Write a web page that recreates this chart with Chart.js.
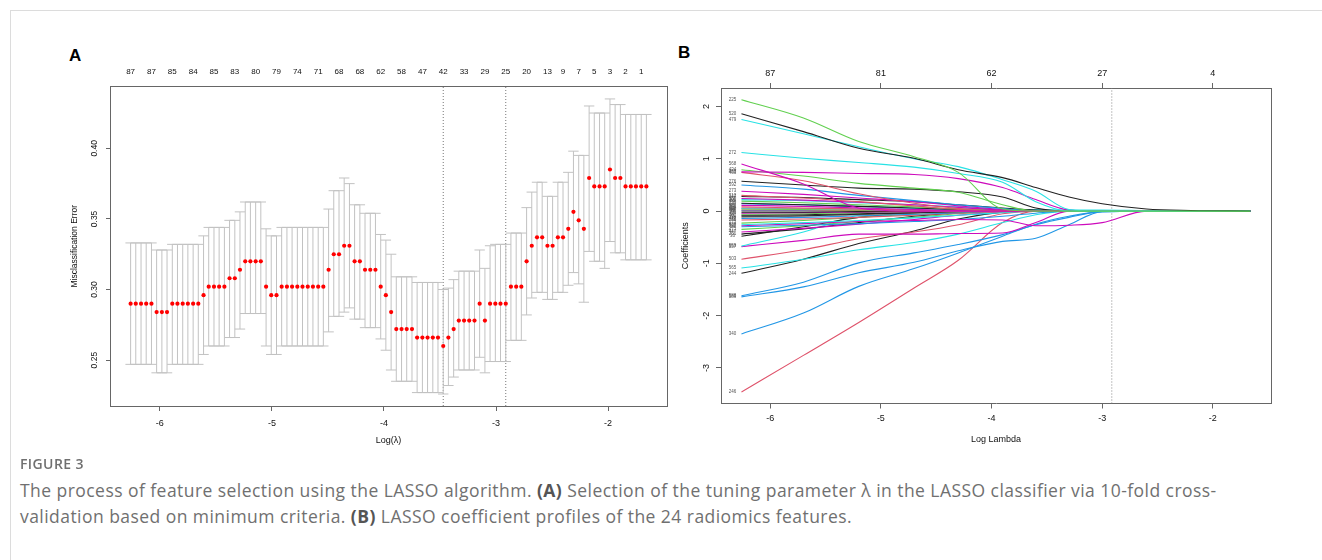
<!DOCTYPE html>
<html>
<head>
<meta charset="utf-8">
<script src="https://cdn.jsdelivr.net/npm/chart.js@4.4.1/dist/chart.umd.min.js"></script>
<style>
  html, body { margin: 0; padding: 0; background: #fff; }
  body { width: 1322px; height: 560px; position: relative; overflow: hidden; font-family: "Liberation Sans", Arial, sans-serif; }
  #frame { position: absolute; left: 10px; top: 10px; width: 1400px; height: 600px; border: 1px solid #dcdcdc; box-sizing: border-box; }
  .panel { position: absolute; font-weight: bold; font-size: 17px; color: #000; }
  #chartA { position: absolute; left: 60px; top: 40px; }
  #chartB { position: absolute; left: 680px; top: 40px; }
  #figlabel { position: absolute; left: 20px; top: 454px; font-family: "Open Sans", sans-serif; font-size: 14px; font-weight: 600; color: #707070; letter-spacing: 0.4px; }
  #figtext { position: absolute; left: 20px; top: 477px; font-family: "Open Sans", sans-serif; font-size: 17.5px; line-height: 26px; letter-spacing: 0.45px; color: #707070; white-space: nowrap; }
  #figtext b { color: #555; }
</style>
</head>
<body>
<div id="frame"></div>
<div class="panel" style="left:69px; top:46px;">A</div>
<div class="panel" style="left:678px; top:43px;">B</div>
<canvas id="chartA" width="620" height="420"></canvas>
<canvas id="chartB" width="610" height="420"></canvas>
<div id="figlabel">FIGURE 3</div>
<div id="figtext">The process of feature selection using the LASSO algorithm. <b>(A)</b> Selection of the tuning parameter λ in the LASSO classifier via 10-fold cross-<br>validation based on minimum criteria. <b>(B)</b> LASSO coefficient profiles of the 24 radiomics features.</div>

<script>
// ---- panel A: 10-fold CV misclassification error along the lambda path ----
const logLambda = [
  -6.261, -6.215, -6.168, -6.122, -6.075, -6.029, -5.982, -5.936, -5.889, -5.843,
  -5.796, -5.750, -5.703, -5.657, -5.610, -5.564, -5.517, -5.471, -5.424, -5.378,
  -5.331, -5.285, -5.238, -5.192, -5.145, -5.099, -5.052, -5.006, -4.959, -4.913,
  -4.866, -4.820, -4.773, -4.727, -4.680, -4.634, -4.587, -4.541, -4.494, -4.448,
  -4.401, -4.355, -4.308, -4.262, -4.215, -4.169, -4.122, -4.076, -4.029, -3.983,
  -3.936, -3.890, -3.843, -3.797, -3.750, -3.704, -3.657, -3.611, -3.564, -3.518,
  -3.471, -3.425, -3.378, -3.332, -3.285, -3.239, -3.192, -3.146, -3.099, -3.053,
  -3.006, -2.960, -2.913, -2.867, -2.820, -2.774, -2.727, -2.681, -2.634, -2.588,
  -2.541, -2.495, -2.448, -2.402, -2.355, -2.309, -2.262, -2.216, -2.169, -2.123,
  -2.076, -2.030, -1.983, -1.937, -1.890, -1.844, -1.797, -1.751, -1.704, -1.658
];
const cvMean = [
  0.290, 0.290, 0.290, 0.290, 0.290, 0.284, 0.284, 0.284, 0.290, 0.290,
  0.290, 0.290, 0.290, 0.290, 0.296, 0.302, 0.302, 0.302, 0.302, 0.308,
  0.308, 0.314, 0.320, 0.320, 0.320, 0.320, 0.302, 0.296, 0.296, 0.302,
  0.302, 0.302, 0.302, 0.302, 0.302, 0.302, 0.302, 0.302, 0.314, 0.325,
  0.325, 0.331, 0.331, 0.320, 0.320, 0.314, 0.314, 0.314, 0.302, 0.296,
  0.284, 0.272, 0.272, 0.272, 0.272, 0.266, 0.266, 0.266, 0.266, 0.266,
  0.260, 0.266, 0.272, 0.278, 0.278, 0.278, 0.278, 0.290, 0.278, 0.290,
  0.290, 0.290, 0.290, 0.302, 0.302, 0.302, 0.320, 0.331, 0.337, 0.337,
  0.331, 0.331, 0.337, 0.337, 0.343, 0.355, 0.349, 0.343, 0.379, 0.373,
  0.373, 0.373, 0.385, 0.379, 0.379, 0.373, 0.373, 0.373, 0.373, 0.373
];
const cvUpper = [
  0.333, 0.333, 0.333, 0.333, 0.333, 0.328, 0.328, 0.328, 0.332, 0.332,
  0.332, 0.332, 0.332, 0.332, 0.338, 0.344, 0.344, 0.344, 0.344, 0.349,
  0.349, 0.355, 0.362, 0.362, 0.362, 0.362, 0.343, 0.338, 0.338, 0.344,
  0.344, 0.344, 0.344, 0.344, 0.344, 0.344, 0.344, 0.344, 0.357, 0.370,
  0.370, 0.379, 0.375, 0.360, 0.360, 0.354, 0.354, 0.354, 0.339, 0.335,
  0.325, 0.309, 0.309, 0.309, 0.309, 0.305, 0.305, 0.305, 0.305, 0.305,
  0.300, 0.301, 0.307, 0.313, 0.313, 0.313, 0.313, 0.328, 0.315, 0.331,
  0.332, 0.332, 0.332, 0.340, 0.340, 0.340, 0.358, 0.369, 0.376, 0.376,
  0.366, 0.366, 0.376, 0.376, 0.383, 0.398, 0.395, 0.395, 0.430, 0.425,
  0.425, 0.425, 0.435, 0.431, 0.431, 0.424, 0.424, 0.424, 0.424, 0.424
];
const cvLower = [
  0.247, 0.247, 0.247, 0.247, 0.247, 0.241, 0.241, 0.241, 0.247, 0.247,
  0.247, 0.247, 0.247, 0.247, 0.254, 0.260, 0.260, 0.260, 0.260, 0.266,
  0.266, 0.272, 0.283, 0.283, 0.283, 0.283, 0.260, 0.254, 0.254, 0.260,
  0.260, 0.260, 0.260, 0.260, 0.260, 0.260, 0.260, 0.260, 0.270, 0.281,
  0.281, 0.284, 0.287, 0.279, 0.279, 0.273, 0.273, 0.273, 0.265, 0.257,
  0.243, 0.235, 0.235, 0.235, 0.235, 0.227, 0.227, 0.227, 0.227, 0.227,
  0.226, 0.232, 0.238, 0.243, 0.243, 0.243, 0.243, 0.252, 0.241, 0.249,
  0.249, 0.249, 0.249, 0.264, 0.264, 0.264, 0.282, 0.294, 0.298, 0.298,
  0.293, 0.293, 0.298, 0.298, 0.303, 0.312, 0.304, 0.291, 0.327, 0.320,
  0.320, 0.315, 0.334, 0.326, 0.326, 0.321, 0.321, 0.321, 0.321, 0.321
];
// number of non-zero coefficients printed on the top axis (lambda positions, 1-based)
const nzIndex = [1, 5, 9, 13, 17, 21, 25, 29, 33, 37, 41, 45, 49, 53, 57, 61, 65, 69, 73, 77, 81, 84, 87, 90, 93, 96, 99];
const nzLabels = ['87', '87', '85', '84', '85', '83', '80', '79', '74', '71', '68', '68', '62', '58', '47', '42', '33', '29', '25', '20', '13', '9', '7', '5', '3', '2', '1'];
const lambdaMin = -3.471;
const lambda1se = -2.913;
const xTicks = [-6, -5, -4, -3, -2];
const yTicksA = [0.25, 0.30, 0.35, 0.40];

// ---- panel B: coefficient profiles ----
const yTicksB = [-3, -2, -1, 0, 1, 2];
const dfB = ['87', '81', '62', '27', '4'];
const knotsB = [-6.26, -5.7, -5.2, -4.7, -4.3, -3.9, -3.6, -3.3, -3.0, -2.6, -2.2, -1.66];
const f225 = [2.13, 1.78, 1.33, 1.04, 0.74, 0.04, 0, 0, 0, 0, 0, 0];
const f520 = [1.86, 1.52, 1.20, 1.01, 0.79, 0.64, 0.45, 0.27, 0.14, 0.04, 0.012, 0];
const f479 = [1.75, 1.48, 1.23, 1.00, 0.85, 0.60, 0.38, 0.03, 0, 0, 0, 0];
const f272 = [1.12, 1.01, 0.93, 0.84, 0.72, 0.55, 0.18, 0, 0, 0, 0, 0];
const f568 = [0.90, 0.52, 0.06, 0, 0, 0, 0, 0, 0, 0, 0, 0];
const f458 = [0.75, 0.74, 0.72, 0.70, 0.62, 0.45, 0.22, 0.02, 0, 0, 0, 0];
const f434 = [0.79, 0.67, 0.53, 0.44, 0.36, 0.12, 0, 0, 0, 0, 0, 0];
const f463 = [0.74, 0.58, 0.33, 0.15, 0.05, 0, 0, 0, 0, 0, 0, 0];
const f276 = [0.57, 0.50, 0.44, 0.42, 0.37, 0.27, 0.06, 0, 0, 0, 0, 0];
const f592 = [0.50, 0.42, 0.30, 0.20, 0.12, 0.05, 0, 0, 0, 0, 0, 0];
const f273 = [0.38, 0.32, 0.25, 0.18, 0.10, 0.03, 0, 0, 0, 0, 0, 0];
const f312 = [0.30, 0.25, 0.18, 0.10, 0.03, 0, 0, 0, 0, 0, 0, 0];
const f147 = [0.28, 0.26, 0.22, 0.18, 0.12, 0.06, 0.02, 0, 0, 0, 0, 0];
const f150 = [0.24, 0.21, 0.17, 0.12, 0.07, 0.02, 0, 0, 0, 0, 0, 0];
const f301 = [0.22, 0.20, 0.16, 0.12, 0.08, 0.03, 0, 0, 0, 0, 0, 0];
const f88 = [0.19, 0.16, 0.12, 0.08, 0.04, 0.02, 0, 0, 0, 0, 0, 0];
const f230 = [0.15, 0.12, 0.09, 0.06, 0.03, 0.01, 0, 0, 0, 0, 0, 0];
const f333 = [0.14, 0.12, 0.09, 0.06, 0.03, 0, 0, 0, 0, 0, 0, 0];
const f45 = [0.11, 0.09, 0.06, 0.03, 0.01, 0, 0, 0, 0, 0, 0, 0];
const f391 = [0.08, 0.06, 0.04, 0.02, 0, 0, 0, 0, 0, 0, 0, 0];
const f203 = [0.06, 0.05, 0.03, 0.01, 0, 0, 0, 0, 0, 0, 0, 0];
const f12 = [0.05, 0.05, 0.04, 0.04, 0.04, 0.03, 0.03, 0.02, 0.02, 0.01, 0.005, 0];
const f510 = [0.04, 0.03, 0.02, 0.01, 0, 0, 0, 0, 0, 0, 0, 0];
const f66 = [0.02, 0.02, 0.01, 0, 0, 0, 0, 0, 0, 0, 0, 0];
const f77 = [0.01, 0.01, 0.01, 0.01, 0.01, 0.01, 0.005, 0, 0, 0, 0, 0];
const f199 = [-0.02, -0.02, -0.01, 0, 0, 0, 0, 0, 0, 0, 0, 0];
const f356 = [-0.04, -0.03, -0.02, -0.01, 0, 0, 0, 0, 0, 0, 0, 0];
const f61 = [-0.06, -0.05, -0.03, -0.01, 0, 0, 0, 0, 0, 0, 0, 0];
const f402 = [-0.08, -0.07, -0.05, -0.03, -0.01, 0, 0, 0, 0, 0, 0, 0];
const f9 = [-0.10, -0.09, -0.06, -0.03, 0, 0, 0, 0, 0, 0, 0, 0];
const f118 = [-0.12, -0.10, -0.07, -0.04, -0.02, 0, 0, 0, 0, 0, 0, 0];
const f412 = [-0.14, -0.12, -0.09, -0.06, -0.03, 0, 0, 0, 0, 0, 0, 0];
const f285 = [-0.17, -0.15, -0.12, -0.08, -0.04, -0.01, 0, 0, 0, 0, 0, 0];
const f173 = [-0.23, -0.18, -0.12, -0.06, -0.02, 0, 0, 0, 0, 0, 0, 0];
const f329 = [-0.26, -0.22, -0.18, -0.13, -0.08, -0.03, 0, 0, 0, 0, 0, 0];
const f531 = [-0.28, -0.24, -0.20, -0.18, -0.16, -0.17, -0.28, -0.27, -0.22, 0, 0, 0];
const f94 = [-0.30, -0.27, -0.24, -0.20, -0.16, -0.10, -0.04, 0, 0, 0, 0, 0];
const f477 = [-0.35, -0.28, -0.20, -0.12, -0.05, 0, 0, 0, 0, 0, 0, 0];
const f447 = [-0.40, -0.33, -0.25, -0.16, -0.08, -0.02, 0, 0, 0, 0, 0, 0];
const f251 = [-0.44, -0.34, -0.22, -0.10, -0.03, 0, 0, 0, 0, 0, 0, 0];
const f36 = [-0.48, -0.30, -0.12, -0.03, 0, 0, 0, 0, 0, 0, 0, 0];
const f559 = [-0.67, -0.40, -0.08, 0, 0, 0, 0, 0, 0, 0, 0, 0];
const f557 = [-0.68, -0.56, -0.44, -0.44, -0.43, -0.42, -0.22, 0, 0, 0, 0, 0];
const f503 = [-0.92, -0.74, -0.53, -0.40, -0.26, -0.05, 0, 0, 0, 0, 0, 0];
const f565 = [-1.09, -0.92, -0.74, -0.60, -0.44, -0.22, -0.07, 0, 0, 0, 0, 0];
const f244 = [-1.19, -0.92, -0.62, -0.38, -0.15, -0.02, 0, 0, 0, 0, 0, 0];
const f588 = [-1.62, -1.36, -0.99, -0.80, -0.64, -0.45, -0.26, -0.12, -0.01, 0, 0, 0];
const f589 = [-1.64, -1.45, -1.18, -0.98, -0.76, -0.58, -0.52, -0.26, -0.01, 0, 0, 0];
const f340 = [-2.35, -1.95, -1.44, -1.10, -0.80, -0.48, -0.25, -0.10, -0.01, 0, 0, 0];
const f246 = [-3.46, -2.76, -2.13, -1.47, -0.94, -0.22, 0, 0, 0, 0, 0, 0];

const featureIds = ['225', '520', '479', '272', '568', '458', '434', '463', '276', '592', '273', '312', '147', '150', '301',
  '88', '230', '333', '45', '391', '203', '12', '510', '66', '77', '199', '356', '61', '402', '9', '118', '412', '285',
  '173', '329', '531', '94', '477', '447', '251', '36', '559', '557', '503', '565', '244', '588', '589', '340', '246'];
const coefPaths = [f225, f520, f479, f272, f568, f458, f434, f463, f276, f592, f273, f312, f147, f150, f301,
  f88, f230, f333, f45, f391, f203, f12, f510, f66, f77, f199, f356, f61, f402, f9, f118, f412, f285,
  f173, f329, f531, f94, f477, f447, f251, f36, f559, f557, f503, f565, f244, f588, f589, f340, f246];

// R default palette colours used for the paths
const rBlack = '#222222', rRed = '#DF536B', rGreen = '#61D04F', rBlue = '#2297E6',
      rCyan = '#28E2E5', rMagenta = '#CD0BBC', rGray = '#9E9E9E';
const pathColors = [rGreen, rBlack, rCyan, rCyan, rMagenta, rMagenta, rGreen, rRed, rBlack, rBlue, rMagenta, rRed, rBlack, rMagenta, rCyan,
  rGreen, rBlack, rBlue, rMagenta, rRed, rGray, rCyan, rGreen, rRed, rBlue, rBlack, rMagenta, rGreen, rBlack, rBlack, rGray, rBlue, rRed,
  rGreen, rCyan, rMagenta, rBlue, rGreen, rMagenta, rBlack, rBlack, rCyan, rMagenta, rRed, rCyan, rBlack, rBlue, rBlue, rBlue, rRed];

Chart.defaults.font.family = '"Liberation Sans", Arial, sans-serif';
Chart.defaults.color = '#111';

const boxColor = '#666';
const barColor = '#c2c2c2';

// y tick labels written parallel to the axis, like R does
const rotatedYLabels = {
  id: 'rotatedYLabels',
  afterDraw(chart, args, opts) {
    const s = chart.scales.y;
    const ctx = chart.ctx;
    ctx.save();
    ctx.font = opts.size + 'px "Liberation Sans", Arial, sans-serif';
    ctx.fillStyle = '#111';
    ctx.textAlign = 'center';
    ctx.textBaseline = 'middle';
    s.ticks.forEach(t => {
      ctx.save();
      ctx.translate(s.right - opts.offset, s.getPixelForValue(t.value));
      ctx.rotate(-Math.PI / 2);
      ctx.fillText(t.value.toFixed(opts.decimals), 0, 0);
      ctx.restore();
    });
    ctx.restore();
  }
};

// feature ids at the left end of each path
const pathLabels = {
  id: 'pathLabels',
  afterDatasetsDraw(chart) {
    const { ctx, scales: { x, y } } = chart;
    ctx.save();
    ctx.font = '4.5px "Liberation Sans", Arial, sans-serif';
    ctx.fillStyle = '#555';
    ctx.textAlign = 'center';
    ctx.textBaseline = 'middle';
    chart.data.datasets.forEach(ds => {
      if (!ds.featureId) return;
      const p = ds.data[0];
      ctx.fillText(ds.featureId, x.getPixelForValue(p.x) - 9, y.getPixelForValue(p.y));
    });
    ctx.restore();
  }
};

const xMin = -6.445, xMax = -1.474;
const yMinA = 0.2175, yMaxA = 0.4438;
const yMinB = -3.68, yMaxB = 2.354;

// ---------- chart A ----------
const stems = [];
const caps = [];
logLambda.forEach((l, i) => {
  stems.push({ x: l, y: cvLower[i] }, { x: l, y: cvUpper[i] }, { x: l, y: null });
  caps.push({ x: l, y: cvUpper[i] }, { x: l, y: cvLower[i] });
});
const dots = logLambda.map((l, i) => ({ x: l, y: cvMean[i] }));

new Chart(document.getElementById('chartA'), {
  type: 'line',
  data: {
    datasets: [
      { data: dots, showLine: false, pointRadius: 2.1, pointBackgroundColor: '#ff0000', pointBorderWidth: 0, order: 0 },
      { data: caps, showLine: false, pointStyle: 'line', pointRadius: 5.2, borderColor: barColor, pointBorderColor: barColor, pointBorderWidth: 1, order: 1 },
      { data: stems, spanGaps: false, borderColor: barColor, borderWidth: 1, pointRadius: 0, order: 2 },
      { data: [{ x: lambdaMin, y: yMinA }, { x: lambdaMin, y: yMaxA }], borderColor: '#777', borderWidth: 1, borderDash: [1, 2], pointRadius: 0, order: 3 },
      { data: [{ x: lambda1se, y: yMinA }, { x: lambda1se, y: yMaxA }], borderColor: '#777', borderWidth: 1, borderDash: [1, 2], pointRadius: 0, order: 3 }
    ]
  },
  options: {
    responsive: false,
    animation: false,
    devicePixelRatio: 1,
    layout: { padding: 0 },
    plugins: { legend: { display: false }, tooltip: { enabled: false }, rotatedYLabels: { size: 8.5, offset: 15, decimals: 2 } },
    scales: {
      x: {
        type: 'linear', position: 'bottom', min: xMin, max: xMax,
        afterBuildTicks: s => { s.ticks = xTicks.map(v => ({ value: v })); },
        afterFit: s => { s.height = 54; },
        grid: { display: true, drawOnChartArea: false, tickLength: 5, color: boxColor },
        border: { display: true, color: boxColor, width: 1 },
        ticks: { font: { size: 9 }, padding: 7, maxRotation: 0, autoSkip: false, callback: v => String(v) },
        title: { display: true, text: 'Log(λ)', font: { size: 9 }, padding: { top: 0, bottom: 13.6 } }
      },
      xTop: {
        type: 'linear', position: 'top', min: xMin, max: xMax,
        afterBuildTicks: s => { s.ticks = nzIndex.map(i => ({ value: logLambda[i - 1] })); },
        afterFit: s => { s.height = 46.5; },
        grid: { display: false, drawTicks: false },
        border: { display: true, color: boxColor, width: 1 },
        ticks: { font: { size: 8 }, padding: 9.7, maxRotation: 0, minRotation: 0, autoSkip: false, callback: (v, i) => nzLabels[i] }
      },
      y: {
        type: 'linear', position: 'left', min: yMinA, max: yMaxA,
        afterBuildTicks: s => { s.ticks = yTicksA.map(v => ({ value: v })); },
        afterFit: s => { s.width = 50; },
        grid: { display: true, drawOnChartArea: false, tickLength: 4, color: boxColor },
        border: { display: true, color: boxColor, width: 1 },
        ticks: { display: false },
        title: { display: true, text: 'Misclassification Error', font: { size: 8.5 }, padding: { top: 9.9, bottom: 0 } }
      },
      yRight: {
        type: 'linear', position: 'right', min: yMinA, max: yMaxA,
        afterFit: s => { s.width = 13; },
        grid: { display: false, drawTicks: false },
        ticks: { display: false },
        border: { display: true, color: boxColor, width: 1 }
      }
    }
  },
  plugins: [rotatedYLabels]
});

// ---------- chart B ----------
const pathSets = coefPaths.map((path, k) => ({
  data: knotsB.map((l, j) => ({ x: l, y: path[j] })),
  featureId: featureIds[k],
  borderColor: pathColors[k],
  borderWidth: 1.1,
  pointRadius: 0,
  cubicInterpolationMode: 'monotone'
}));
pathSets.push({
  data: [{ x: lambda1se, y: yMinB }, { x: lambda1se, y: yMaxB }],
  borderColor: '#888', borderWidth: 1, borderDash: [1, 2], pointRadius: 0
});

new Chart(document.getElementById('chartB'), {
  type: 'line',
  data: { datasets: pathSets },
  options: {
    responsive: false,
    animation: false,
    devicePixelRatio: 1,
    layout: { padding: 0 },
    plugins: { legend: { display: false }, tooltip: { enabled: false }, rotatedYLabels: { size: 9, offset: 14, decimals: 0 } },
    scales: {
      x: {
        type: 'linear', position: 'bottom', min: xMin, max: xMax,
        afterBuildTicks: s => { s.ticks = xTicks.map(v => ({ value: v })); },
        afterFit: s => { s.height = 56.5; },
        grid: { display: true, drawOnChartArea: false, tickLength: 5, color: boxColor },
        border: { display: true, color: boxColor, width: 1 },
        ticks: { font: { size: 9 }, padding: 5.1, maxRotation: 0, autoSkip: false, callback: v => String(v) },
        title: { display: true, text: 'Log Lambda', font: { size: 9 }, padding: { top: 0, bottom: 14.6 } }
      },
      xTop: {
        type: 'linear', position: 'top', min: xMin, max: xMax,
        afterBuildTicks: s => { s.ticks = xTicks.map(v => ({ value: v })); },
        afterFit: s => { s.height = 48; },
        grid: { display: true, drawOnChartArea: false, tickLength: 5, color: boxColor },
        border: { display: true, color: boxColor, width: 1 },
        ticks: { font: { size: 9 }, padding: 3.6, maxRotation: 0, autoSkip: false, callback: (v, i) => dfB[i] }
      },
      y: {
        type: 'linear', position: 'left', min: yMinB, max: yMaxB,
        afterBuildTicks: s => { s.ticks = yTicksB.map(v => ({ value: v })); },
        afterFit: s => { s.width = 41; },
        grid: { display: true, drawOnChartArea: false, tickLength: 5, color: boxColor },
        border: { display: true, color: boxColor, width: 1 },
        ticks: { display: false },
        title: { display: true, text: 'Coefficients', font: { size: 9 }, padding: { top: 0.6, bottom: 0 } }
      },
      yRight: {
        type: 'linear', position: 'right', min: yMinB, max: yMaxB,
        afterFit: s => { s.width = 19; },
        grid: { display: false, drawTicks: false },
        ticks: { display: false },
        border: { display: true, color: boxColor, width: 1 }
      }
    }
  },
  plugins: [rotatedYLabels, pathLabels]
});
</script>
</body>
</html>
